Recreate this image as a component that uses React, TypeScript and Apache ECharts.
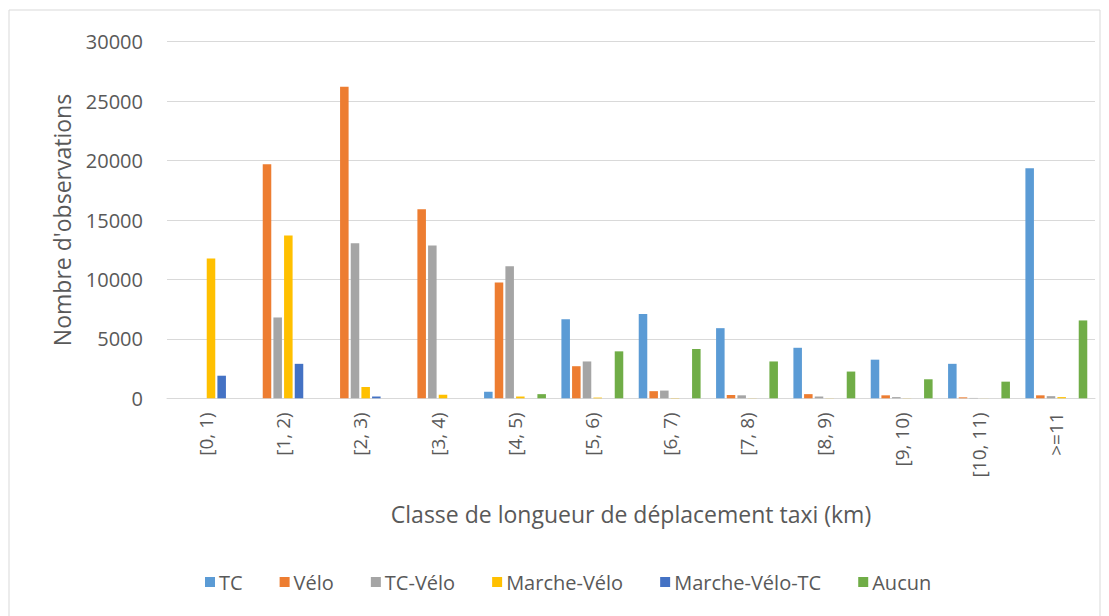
import React, { useEffect, useRef } from "react";
import * as echarts from "echarts";

const categories = ["[0, 1)", "[1, 2)", "[2, 3)", "[3, 4)", "[4, 5)", "[5, 6)", "[6, 7)", "[7, 8)", "[8, 9)", "[9, 10)", "[10, 11)", ">=11"];
const seriesNames = ["TC", "Vélo", "TC-Vélo", "Marche-Vélo", "Marche-Vélo-TC", "Aucun"];
const tc = [0, 0, 0, 0, 550, 6650, 7100, 5900, 4250, 3250, 2900, 19350];
const velo = [0, 19700, 26200, 15900, 9750, 2700, 600, 280, 350, 250, 80, 250];
const tcVelo = [0, 6800, 13050, 12850, 11100, 3100, 650, 250, 150, 100, 30, 180];
const marcheVelo = [11770, 13700, 950, 300, 150, 60, 20, 10, 10, 10, 5, 100];
const marcheVeloTc = [1900, 2900, 150, 0, 0, 0, 0, 0, 0, 0, 0, 0];
const aucun = [0, 0, 0, 0, 350, 3950, 4150, 3100, 2250, 1600, 1400, 6550];
const colors = ["#5B9BD5", "#ED7D31", "#A5A5A5", "#FFC000", "#4472C4", "#70AD47"];
const yTicks = { min: 0, max: 30000, interval: 5000 };

const FONT = "'Open Sans', sans-serif";
const TXT = "#595959";

export default function App() {
  const ref = useRef<HTMLDivElement>(null);
  useEffect(() => {
    document.body.style.margin = "0";
    const chart = echarts.init(ref.current!, null, { renderer: "svg" });
    const values = [tc, velo, tcVelo, marcheVelo, marcheVeloTc, aucun];
    chart.setOption({
      animation: false,
      color: colors,
      textStyle: { fontFamily: FONT, color: TXT },
      graphic: [
        {
          type: "rect",
          shape: { x: 9, y: 10, width: 1091, height: 620 },
          style: { fill: "none", stroke: "#d9d9d9", lineWidth: 1 },
          silent: true,
        },
      ],
      grid: { left: 167, right: 14, top: 41.7, bottom: 217.7 },
      legend: {
        data: seriesNames,
        bottom: 19,
        left: 200,
        itemWidth: 10,
        itemHeight: 10,
        itemGap: 37,
        icon: "rect",
        textStyle: { fontFamily: FONT, fontSize: 20, color: TXT, padding: [0, 0, 0, -1] },
      },
      xAxis: {
        type: "category",
        data: categories,
        axisLine: { show: true, lineStyle: { color: "#d9d9d9", width: 1 } },
        axisTick: { show: false },
        axisLabel: { rotate: 90, fontSize: 19, color: TXT, fontFamily: FONT, margin: 14, interval: 0 },
        name: "Classe de longueur de déplacement taxi (km)",
        nameLocation: "middle",
        nameGap: 104,
        nameTextStyle: { fontSize: 23, color: TXT, fontFamily: FONT },
      },
      yAxis: {
        type: "value",
        min: yTicks.min,
        max: yTicks.max,
        interval: yTicks.interval,
        axisLine: { show: false },
        axisTick: { show: false },
        splitLine: { lineStyle: { color: "#d9d9d9", width: 1 } },
        axisLabel: { fontSize: 20, color: TXT, fontFamily: FONT, margin: 24, formatter: (v: number) => String(v) },
        name: "Nombre d'observations",
        nameLocation: "middle",
        nameGap: 94,
        nameTextStyle: { fontSize: 23, color: TXT, fontFamily: FONT },
      },
      series: seriesNames.map((n, i) => ({
        name: n,
        type: "bar",
        data: values[i],
        barGap: "25%",
        barCategoryGap: "20%",
        itemStyle: { color: colors[i] },
      })),
    });
    return () => chart.dispose();
  }, []);
  return <div ref={ref} style={{ width: 1109, height: 616 }} />;
}
